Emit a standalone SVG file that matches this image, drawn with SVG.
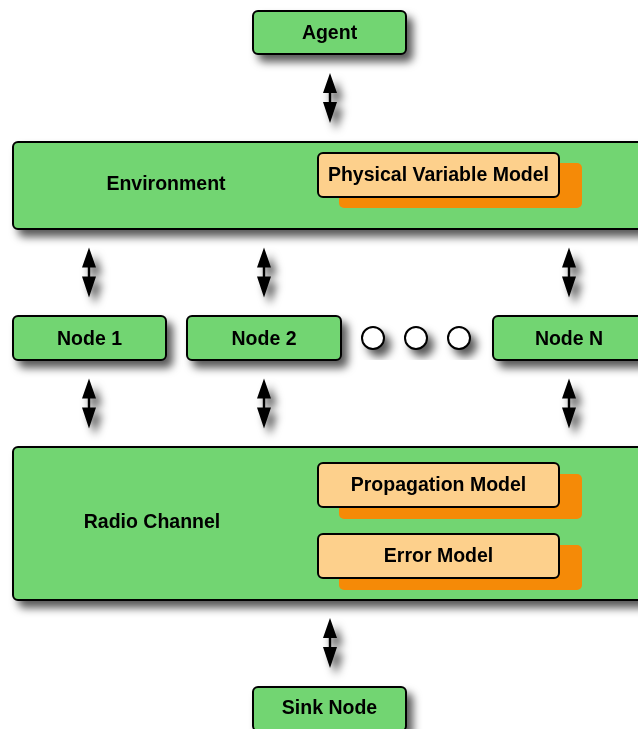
<svg xmlns="http://www.w3.org/2000/svg" xmlns:xlink="http://www.w3.org/1999/xlink" width="638" height="729" viewBox="0 0 638 729">
  <defs>
    <filter id="drop" x="-20%" y="-20%" width="150%" height="170%">
      <feDropShadow dx="6" dy="7" stdDeviation="4.5" flood-color="#000" flood-opacity="0.65"/>
    </filter>
    <!-- vertical double-headed arrow, centred on its origin -->
    <path id="dblArrow" d="M0,-25 L7,-5 L1.2,-5 L1.2,4 L7,4 L0,25 L-7,4 L-1.2,4 L-1.2,-5 L-7,-5 Z"/>
    <style>
      .box { fill: #72D572; stroke: #000; stroke-width: 2; }
      .model { fill: #FDD08C; stroke: #000; stroke-width: 2; }
      .backing { fill: #F58A07; }
      .dot { fill: #fff; stroke: #000; stroke-width: 2; }
      .lbl { font-family: "Liberation Sans", Arial, sans-serif; font-weight: bold; font-size: 19.5px; fill: #000; text-anchor: middle; }
      .arrow { fill: #000; }
    </style>
  </defs>

  <rect width="638" height="729" fill="#fff"/>

  <!-- connectors -->
  <g id="connectors" class="arrow" filter="url(#drop)">
    <use xlink:href="#dblArrow" x="330" y="98"/>
    <use xlink:href="#dblArrow" x="89" y="272.5"/>
    <use xlink:href="#dblArrow" x="264" y="272.5"/>
    <use xlink:href="#dblArrow" x="569" y="272.5"/>
    <use xlink:href="#dblArrow" x="89" y="403.5"/>
    <use xlink:href="#dblArrow" x="264" y="403.5"/>
    <use xlink:href="#dblArrow" x="569" y="403.5"/>
    <use xlink:href="#dblArrow" x="330" y="643"/>
  </g>

  <g id="agent">
    <rect class="box" x="253" y="11" width="153" height="43" rx="5" filter="url(#drop)"/>
    <text class="lbl" x="329.5" y="39">Agent</text>
  </g>

  <g id="environment">
    <rect class="box" x="13" y="142" width="640" height="87" rx="5" filter="url(#drop)"/>
    <text class="lbl" x="166" y="190">Environment</text>
    <g id="physical-variable-model">
      <rect class="backing" x="339" y="163" width="243" height="45" rx="5"/>
      <rect class="model" x="318" y="153" width="241" height="44" rx="5"/>
      <text class="lbl" x="438.5" y="181">Physical Variable Model</text>
    </g>
  </g>

  <g id="node1">
    <rect class="box" x="13" y="316" width="153" height="44" rx="5" filter="url(#drop)"/>
    <text class="lbl" x="89.5" y="344.5">Node 1</text>
  </g>

  <g id="node2">
    <rect class="box" x="187" y="316" width="154" height="44" rx="5" filter="url(#drop)"/>
    <text class="lbl" x="264" y="344.5">Node 2</text>
  </g>

  <g id="ellipsis" filter="url(#drop)">
    <circle class="dot" cx="373" cy="338" r="11"/>
    <circle class="dot" cx="416" cy="338" r="11"/>
    <circle class="dot" cx="459" cy="338" r="11"/>
  </g>

  <g id="nodeN">
    <rect class="box" x="493" y="316" width="160" height="44" rx="5" filter="url(#drop)"/>
    <text class="lbl" x="569" y="344.5">Node N</text>
  </g>

  <g id="radio-channel">
    <rect class="box" x="13" y="447" width="640" height="153" rx="5" filter="url(#drop)"/>
    <text class="lbl" x="152" y="528">Radio Channel</text>
    <g id="propagation-model">
      <rect class="backing" x="339" y="474" width="243" height="45" rx="5"/>
      <rect class="model" x="318" y="463" width="241" height="44" rx="5"/>
      <text class="lbl" x="438.5" y="491">Propagation Model</text>
    </g>
    <g id="error-model">
      <rect class="backing" x="339" y="545" width="243" height="45" rx="5"/>
      <rect class="model" x="318" y="534" width="241" height="44" rx="5"/>
      <text class="lbl" x="438.5" y="562">Error Model</text>
    </g>
  </g>

  <g id="sink-node">
    <rect class="box" x="253" y="687" width="153" height="44" rx="5" filter="url(#drop)"/>
    <text class="lbl" x="329.5" y="714">Sink Node</text>
  </g>
</svg>
